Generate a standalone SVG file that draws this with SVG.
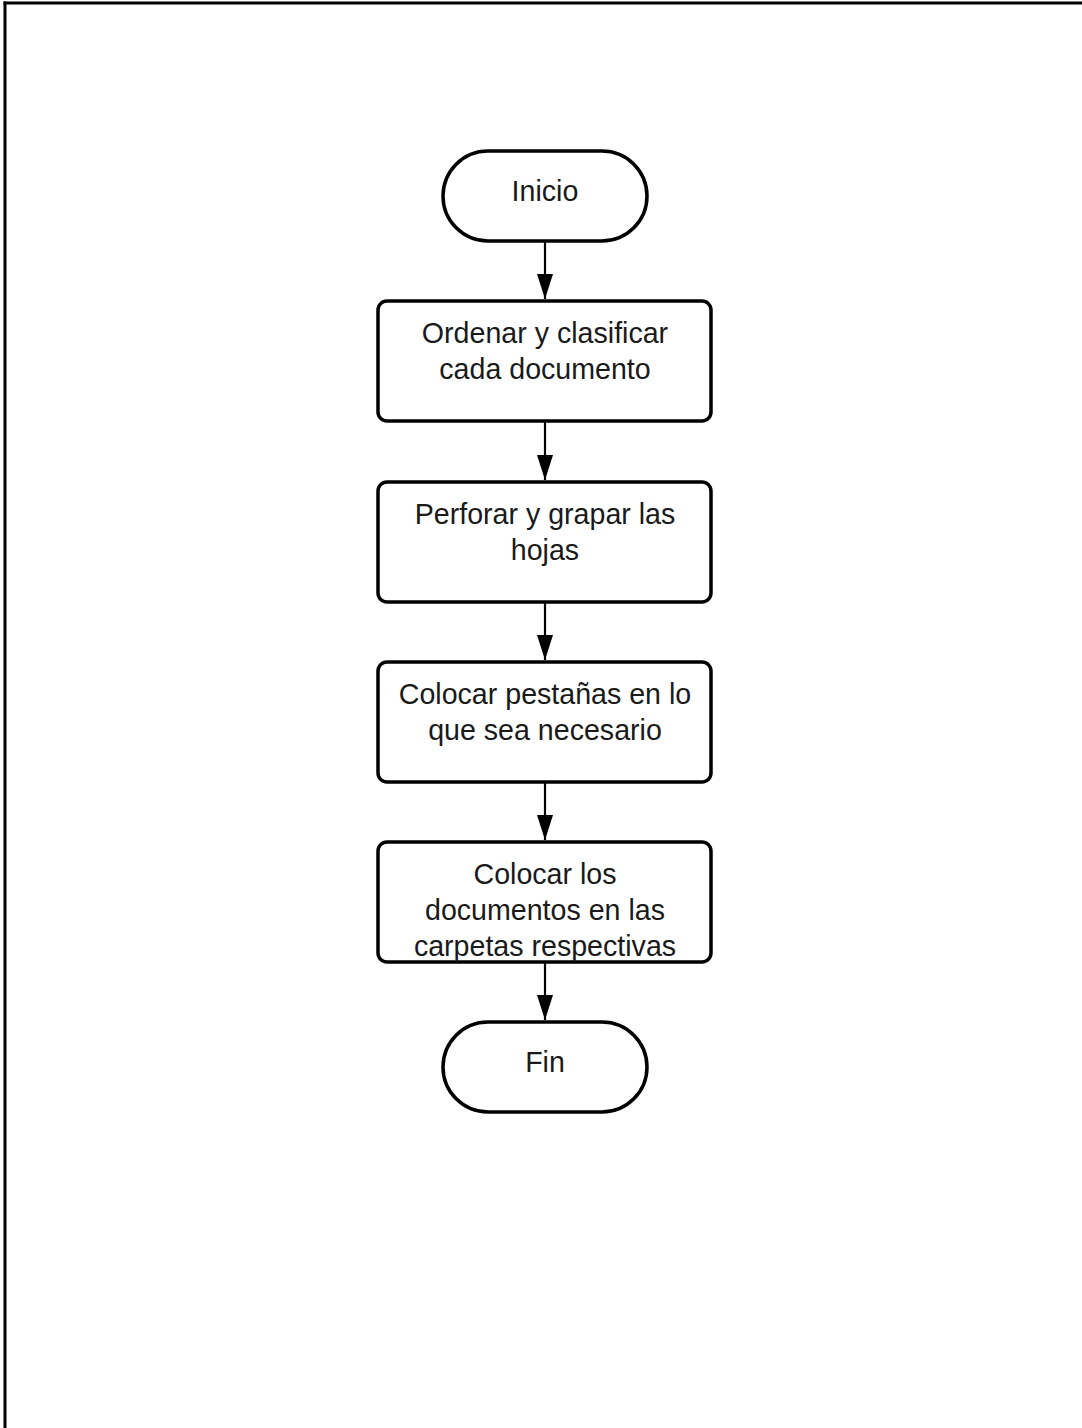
<svg xmlns="http://www.w3.org/2000/svg" width="1082" height="1428" viewBox="0 0 1082 1428">
<style>
.node{fill:#fff;stroke:#000;stroke-width:3.5}
.lbl{font-family:"Liberation Sans",Arial,sans-serif;font-size:28.6px;fill:#1a1a1a;text-anchor:middle}
.conn{stroke:#000;stroke-width:2.2;fill:none}
.frame{stroke:#000;stroke-width:3;fill:none}
</style>
<defs>
<marker id="arr" viewBox="0 0 25 16" refX="25" refY="8" markerWidth="25" markerHeight="16" markerUnits="userSpaceOnUse" orient="auto">
<path d="M0,0 L25,8 L0,16 Z" fill="#000"/>
</marker>
</defs>
<rect width="1082" height="1428" fill="#fff"/>
<g id="frame">
<line class="frame" x1="3.5" y1="3" x2="1082" y2="3"/>
<line class="frame" x1="5" y1="1.5" x2="5" y2="1428"/>
</g>
<g id="connectors">
<line class="conn" x1="545" y1="241" x2="545" y2="299" marker-end="url(#arr)"/>
<line class="conn" x1="545" y1="422" x2="545" y2="480" marker-end="url(#arr)"/>
<line class="conn" x1="545" y1="602" x2="545" y2="660" marker-end="url(#arr)"/>
<line class="conn" x1="545" y1="782" x2="545" y2="840" marker-end="url(#arr)"/>
<line class="conn" x1="545" y1="962" x2="545" y2="1020" marker-end="url(#arr)"/>
</g>
<g id="inicio">
<rect class="node" x="443" y="151" width="204" height="90" rx="45"/>
<text class="lbl" x="545" y="201">Inicio</text>
</g>
<g id="ordenar">
<rect class="node" x="378" y="301" width="333" height="120" rx="9"/>
<text class="lbl" x="545" y="343">Ordenar y clasificar</text>
<text class="lbl" x="545" y="379">cada documento</text>
</g>
<g id="perforar">
<rect class="node" x="378" y="482" width="333" height="120" rx="9"/>
<text class="lbl" x="545" y="524">Perforar y grapar las</text>
<text class="lbl" x="545" y="560">hojas</text>
</g>
<g id="pestanas">
<rect class="node" x="378" y="662" width="333" height="120" rx="9"/>
<text class="lbl" x="545" y="704">Colocar pestañas en lo</text>
<text class="lbl" x="545" y="740">que sea necesario</text>
</g>
<g id="carpetas">
<rect class="node" x="378" y="842" width="333" height="120" rx="9"/>
<text class="lbl" x="545" y="884">Colocar los</text>
<text class="lbl" x="545" y="920">documentos en las</text>
<text class="lbl" x="545" y="956">carpetas respectivas</text>
</g>
<g id="fin">
<rect class="node" x="443" y="1022" width="204" height="90" rx="45"/>
<text class="lbl" x="545" y="1072">Fin</text>
</g>
</svg>
